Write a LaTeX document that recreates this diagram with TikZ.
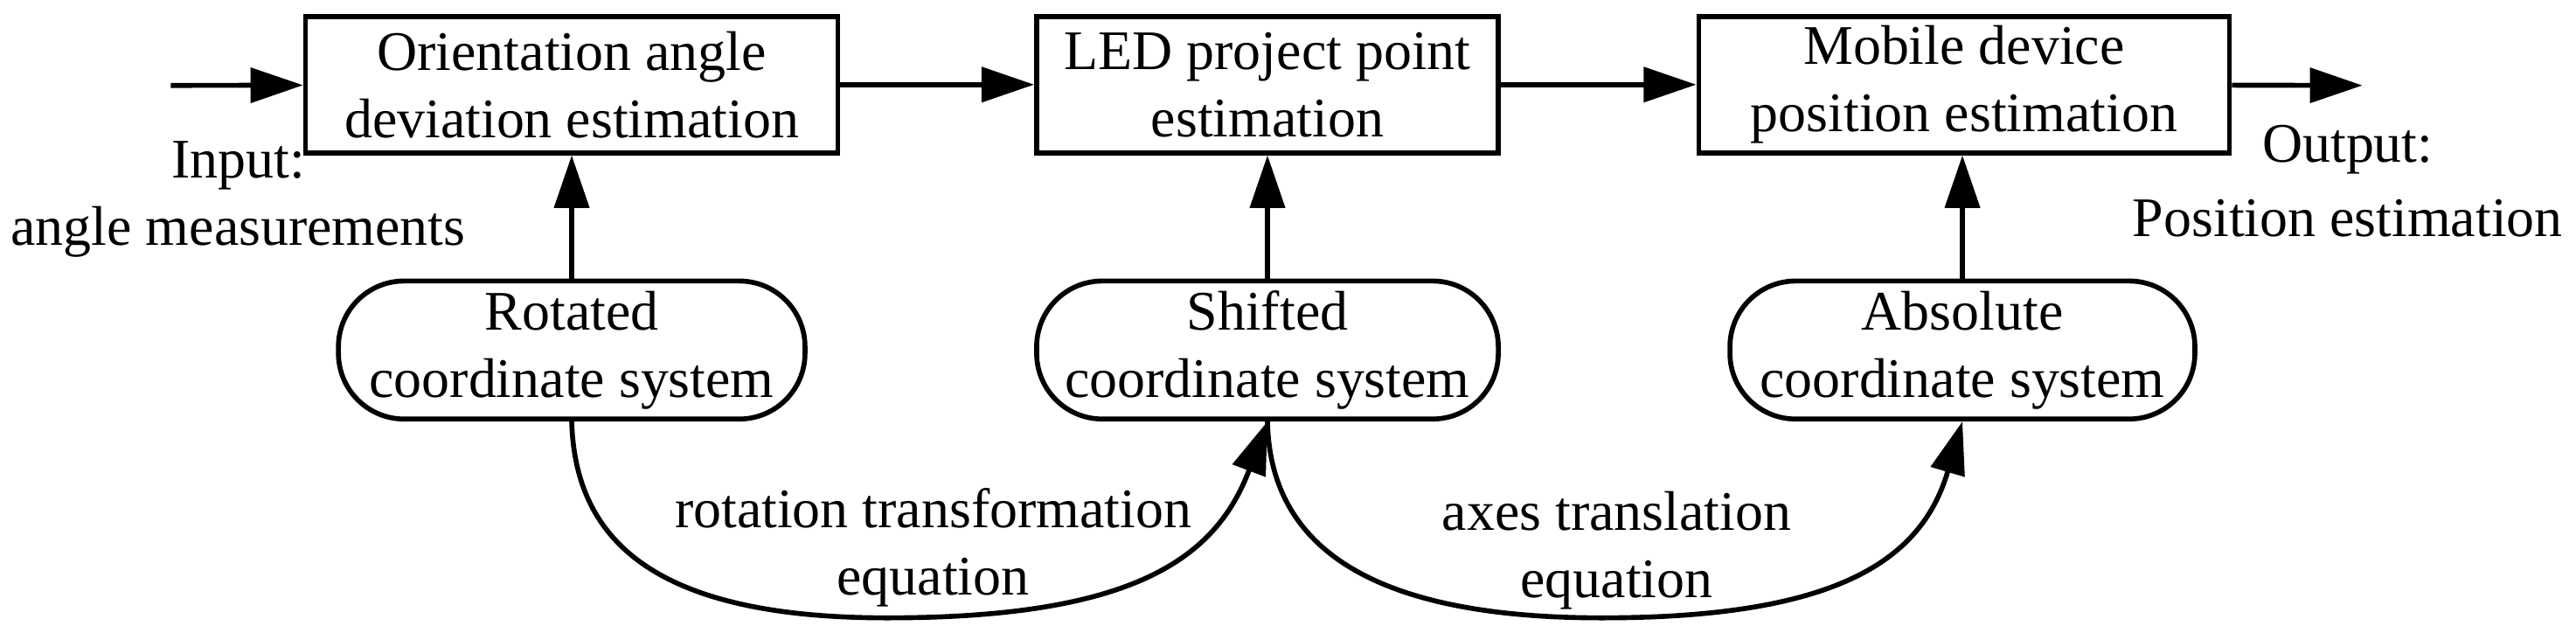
\documentclass[tikz,border=0pt]{standalone}
\usepackage{fontspec}
\setmainfont{Liberation Serif}
\usetikzlibrary{arrows.meta}
\begin{document}
\begin{tikzpicture}[x=1pt,y=-1pt,
  every node/.style={font=\fontsize{34}{41}\selectfont, align=center, inner sep=0pt},
  box/.style={draw, line width=3pt, minimum height=83pt},
  rbox/.style={draw, line width=3pt, minimum height=84pt, rounded corners=40pt},
  arr/.style={line width=3pt, -{Triangle[length=32pt,width=21pt]}}]
\useasboundingbox (0,0) rectangle (1568,385);
\node[box, minimum width=324pt] (b1) at (348,51.5) {Orientation angle\\deviation estimation};
\node[box, minimum width=281pt] (b2) at (771.5,51.5) {LED project point\\estimation};
\node[box, minimum width=323pt] (b3) at (1195.5,51.5) {Mobile device\\position estimation};
\node[rbox, minimum width=284pt] (r1) at (348,213) {Rotated\\coordinate system};
\node[rbox, minimum width=281pt] (r2) at (771.5,213) {Shifted\\coordinate system};
\node[rbox, minimum width=283pt] (r3) at (1194.5,213) {Absolute\\coordinate system};
\coordinate (in) at (104,52);
\coordinate (out) at (1438,52);
\draw[arr] (in) -- (b1);
\draw[arr] (b1) -- (b2);
\draw[arr] (b2) -- (b3);
\draw[arr] (b3) -- (out);
\draw[arr] (r1.north) -- (r1.north |- b1.south);
\draw[arr] (r2.north) -- (r2.north |- b2.south);
\draw[arr] (r3.north) -- (r3.north |- b3.south);
\draw[arr] (r1.south) .. controls (350,330) and (400,376) .. (540,376) .. controls (690,376) and (740,340) .. (r2.south);
\draw[arr] (r2.south) .. controls (773,330) and (830,376) .. (975,376) .. controls (1120,376) and (1170,340) .. (r3.south);
\node (inl) at (145,101) {Input:};
\node (inl2) at (145,141) {angle measurements};
\node (outl) at (1429,91) {Output:};
\node (outl2) at (1429,133) {Position estimation};
\node (c1) at (568,333) {rotation transformation\\equation};
\node (c2) at (984,335) {axes translation\\equation};
\end{tikzpicture}
\end{document}
